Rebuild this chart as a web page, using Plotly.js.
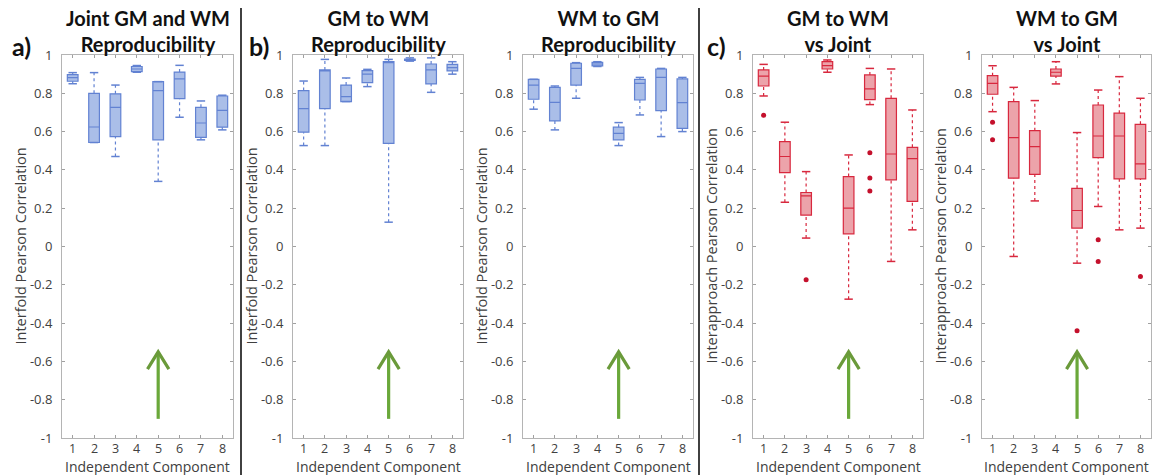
<!DOCTYPE html>
<html>
<head>
<meta charset="utf-8">
<script src="https://cdn.plot.ly/plotly-3.0.1.min.js"></script>
<style>html,body{margin:0;padding:0;background:#fff;}#chart{width:1153px;height:475px;}</style>
</head>
<body>
<div id="chart"></div>
<script>
// ---------- data ----------
const components = [1, 2, 3, 4, 5, 6, 7, 8];
const xTickText = ['1', '2', '3', '4', '5', '6', '7', '8'];
const yTickVals = [-1, -0.8, -0.6, -0.4, -0.2, 0, 0.2, 0.4, 0.6, 0.8, 1];
const yTickText = ['-1', '-0.8', '-0.6', '-0.4', '-0.2', '0', '0.2', '0.4', '0.6', '0.8', '1'];

const panelTitles = ['Joint GM and WM<br>Reproducibility', 'GM to WM<br>Reproducibility', 'WM to GM<br>Reproducibility', 'GM to WM<br>vs Joint', 'WM to GM<br>vs Joint'];
const panelLetters = ['a)', 'b)', 'c)'];
const yTitles = ['Interfold Pearson Correlation', 'Interfold Pearson Correlation', 'Interfold Pearson Correlation', 'Interapproach Pearson Correlation', 'Interapproach Pearson Correlation'];
const xTitle = 'Independent Component';

// Panel 1: Joint GM and WM reproducibility
const jointLo  = [0.850, 0.543, 0.470, 0.910, 0.340, 0.675, 0.557, 0.609];
const jointQ1  = [0.863, 0.543, 0.574, 0.913, 0.557, 0.772, 0.570, 0.623];
const jointMed = [0.882, 0.624, 0.727, 0.927, 0.814, 0.875, 0.645, 0.711];
const jointQ3  = [0.897, 0.800, 0.797, 0.940, 0.861, 0.911, 0.727, 0.786];
const jointHi  = [0.908, 0.908, 0.843, 0.945, 0.861, 0.946, 0.760, 0.790];
const jointOutX = [];
const jointOutY = [];

// Panel 2: GM to WM reproducibility
const gwLo  = [0.527, 0.527, 0.757, 0.835, 0.127, 0.968, 0.805, 0.900];
const gwQ1  = [0.597, 0.720, 0.757, 0.856, 0.539, 0.972, 0.849, 0.917];
const gwMed = [0.720, 0.917, 0.783, 0.900, 0.960, 0.975, 0.922, 0.934];
const gwQ3  = [0.814, 0.922, 0.843, 0.918, 0.966, 0.978, 0.953, 0.951];
const gwHi  = [0.864, 0.977, 0.880, 0.925, 0.977, 0.985, 0.985, 0.965];
const gwOutX = [];
const gwOutY = [];

// Panel 3: WM to GM reproducibility
const wgLo  = [0.717, 0.609, 0.774, 0.940, 0.527, 0.687, 0.574, 0.600];
const wgQ1  = [0.769, 0.656, 0.843, 0.943, 0.557, 0.765, 0.710, 0.617];
const wgMed = [0.843, 0.753, 0.930, 0.953, 0.591, 0.852, 0.883, 0.751];
const wgQ3  = [0.873, 0.831, 0.957, 0.962, 0.623, 0.873, 0.927, 0.875];
const wgHi  = [0.873, 0.838, 0.960, 0.965, 0.647, 0.883, 0.930, 0.883];
const wgOutX = [];
const wgOutY = [];

// Panel 4: GM to WM vs Joint
const gwjLo  = [0.786, 0.231, 0.044, 0.910, -0.275, 0.741, -0.078, 0.087];
const gwjQ1  = [0.838, 0.386, 0.164, 0.927, 0.066, 0.767, 0.348, 0.236];
const gwjMed = [0.890, 0.470, 0.264, 0.944, 0.200, 0.823, 0.483, 0.459];
const gwjQ3  = [0.922, 0.548, 0.282, 0.965, 0.365, 0.896, 0.774, 0.518];
const gwjHi  = [0.951, 0.649, 0.391, 0.974, 0.478, 0.930, 0.927, 0.713];
const gwjOutX = [1, 3, 6, 6, 6];
const gwjOutY = [0.685, -0.174, 0.490, 0.358, 0.290];

// Panel 5: WM to GM vs Joint
const wgjLo  = [0.704, -0.052, 0.238, 0.849, -0.087, 0.209, 0.087, 0.096];
const wgjQ1  = [0.795, 0.357, 0.377, 0.890, 0.096, 0.464, 0.353, 0.353];
const wgjMed = [0.852, 0.569, 0.522, 0.910, 0.188, 0.577, 0.577, 0.431];
const wgjQ3  = [0.892, 0.757, 0.605, 0.927, 0.304, 0.739, 0.696, 0.638];
const wgjHi  = [0.944, 0.831, 0.762, 0.965, 0.595, 0.817, 0.887, 0.774];
const wgjOutX = [1, 1, 5, 6, 6, 8];
const wgjOutY = [0.649, 0.557, -0.440, 0.035, -0.078, -0.157];

// highlighted component (green arrow)
const arrowComponent = 5;
const arrowFrom = -0.90;
const arrowTo = -0.55;

// ---------- build ----------
const W = 1153, H = 475;
const panels = [
  {lo: jointLo, q1: jointQ1, med: jointMed, q3: jointQ3, hi: jointHi, ox: jointOutX, oy: jointOutY, c: 'blue', px: [62, 233]},
  {lo: gwLo, q1: gwQ1, med: gwMed, q3: gwQ3, hi: gwHi, ox: gwOutX, oy: gwOutY, c: 'blue', px: [293, 463]},
  {lo: wgLo, q1: wgQ1, med: wgMed, q3: wgQ3, hi: wgHi, ox: wgOutX, oy: wgOutY, c: 'blue', px: [523, 693]},
  {lo: gwjLo, q1: gwjQ1, med: gwjMed, q3: gwjQ3, hi: gwjHi, ox: gwjOutX, oy: gwjOutY, c: 'red', px: [753, 923]},
  {lo: wgjLo, q1: wgjQ1, med: wgjMed, q3: wgjQ3, hi: wgjHi, ox: wgjOutX, oy: wgjOutY, c: 'red', px: [982, 1151]}
];
const palette = {
  blue: {fill: '#aabee8', line: '#6282d2', out: '#4a6cc8'},
  red:  {fill: '#eca3aa', line: '#d8283e', out: '#c4102c'}
};
const plotTop = 55, plotBot = 438;
const yDom = [1 - plotBot / H, 1 - plotTop / H];
const baseFont = '"Open Sans", sans-serif';
const boldFont = 'Lato, "Open Sans", sans-serif';

const data = [];
const layout = {
  width: W, height: H,
  margin: {l: 0, r: 0, t: 0, b: 0},
  paper_bgcolor: '#ffffff', plot_bgcolor: '#ffffff',
  showlegend: false,
  font: {family: baseFont, color: '#404040', size: 13},
  annotations: [], shapes: []
};

panels.forEach((p, i) => {
  const n = i === 0 ? '' : String(i + 1);
  const xa = 'x' + n, ya = 'y' + n;
  const col = palette[p.c];
  // boxes (whiskers drawn separately as dashed lines)
  data.push({
    type: 'box', xaxis: xa, yaxis: ya,
    x: components, q1: p.q1, median: p.med, q3: p.q3,
    lowerfence: p.q1, upperfence: p.q3,
    width: 0.5, whiskerwidth: 0,
    fillcolor: col.fill, line: {color: col.line, width: 1.2},
    boxpoints: false, hoverinfo: 'skip'
  });
  // whiskers
  const wx = [], wy = [];
  components.forEach((c, k) => {
    wx.push(c, c, null, c, c, null);
    wy.push(p.q3[k], p.hi[k], null, p.lo[k], p.q1[k], null);
  });
  data.push({
    type: 'scatter', mode: 'lines', xaxis: xa, yaxis: ya,
    x: wx, y: wy, line: {color: col.line, width: 1.2, dash: '3px,3px'},
    hoverinfo: 'skip'
  });
  // whisker caps
  data.push({
    type: 'scatter', mode: 'markers', xaxis: xa, yaxis: ya,
    x: components.concat(components), y: p.hi.concat(p.lo),
    marker: {symbol: 'line-ew', size: 6, line: {color: col.line, width: 1.5}},
    hoverinfo: 'skip'
  });
  // outliers
  if (p.ox.length) {
    data.push({
      type: 'scatter', mode: 'markers', xaxis: xa, yaxis: ya,
      x: p.ox, y: p.oy,
      marker: {symbol: 'circle', size: 5, color: col.out},
      hoverinfo: 'skip'
    });
  }
  const axisCommon = {
    showline: true, linecolor: '#b4b4b4', linewidth: 1, mirror: 'ticks',
    ticks: 'inside', ticklen: 3, tickcolor: '#a0a0a0', showgrid: false, zeroline: false,
    tickfont: {family: baseFont, size: 13, color: '#404040'}
  };
  layout['xaxis' + n] = Object.assign({}, axisCommon, {
    anchor: ya, domain: [p.px[0] / W, p.px[1] / W], range: [0.5, 8.5],
    tickvals: components, ticktext: xTickText, showticklabels: false
  });
  layout['yaxis' + n] = Object.assign({}, axisCommon, {
    anchor: xa, domain: yDom, range: [-1, 1],
    tickvals: yTickVals, ticktext: yTickText, ticklabelstandoff: 6
  });
  // x tick labels (placed as annotations on the axis positions)
  components.forEach((c, k) => {
    layout.annotations.push({
      xref: xa, yref: 'paper', x: c, y: 1 - 448.5 / H,
      xanchor: 'center', yanchor: 'middle', showarrow: false, borderpad: 0,
      text: xTickText[k], font: {family: baseFont, size: 12.5, color: '#404040'}
    });
  });
  const cx = (p.px[0] + p.px[1]) / 2;
  // panel title
  layout.annotations.push({
    xref: 'paper', yref: 'paper', x: cx / W, y: 1 - 31 / H,
    xanchor: 'center', yanchor: 'middle', showarrow: false,
    text: '<b>' + panelTitles[i] + '</b>',
    font: {family: boldFont, size: 20, color: '#111111'}
  });
  // x title
  layout.annotations.push({
    xref: 'paper', yref: 'paper', x: cx / W, y: 1 - 466 / H,
    xanchor: 'center', yanchor: 'middle', showarrow: false, borderpad: 0,
    text: xTitle, font: {family: baseFont, size: 14, color: '#404040'}
  });
  // y title
  layout.annotations.push({
    xref: 'paper', yref: 'paper', x: (p.px[0] - 42) / W, y: 1 - ((plotTop + plotBot) / 2) / H,
    xanchor: 'center', yanchor: 'middle', showarrow: false, textangle: -90,
    text: yTitles[i], font: {family: baseFont, size: 14.5, color: '#404040'}
  });
  // green arrow at highlighted component
  const green = '#6aa83a';
  layout.shapes.push({
    type: 'line', xref: xa, yref: ya, x0: arrowComponent, x1: arrowComponent,
    y0: arrowFrom, y1: arrowTo - 0.005, line: {color: green, width: 3.2}
  });
  layout.shapes.push({
    type: 'path', xref: xa, yref: ya,
    path: 'M ' + (arrowComponent - 0.5) + ',' + (arrowTo - 0.09) + ' L ' + arrowComponent + ',' + arrowTo +
          ' L ' + (arrowComponent + 0.5) + ',' + (arrowTo - 0.09),
    line: {color: '#6a9a3a', width: 3.2}
  });
});

// panel letters
const letterX = [10, 247, 705];
panelLetters.forEach((t, k) => {
  layout.annotations.push({
    xref: 'paper', yref: 'paper', x: letterX[k] / W, y: 1 - 46 / H,
    xanchor: 'left', yanchor: 'middle', showarrow: false,
    text: '<b>' + t + '</b>', font: {family: boldFont, size: 25, color: '#111111'}
  });
});

// divider lines between figure groups
[241, 699].forEach(px => {
  layout.shapes.push({
    type: 'line', xref: 'paper', yref: 'paper', x0: px / W, x1: px / W,
    y0: 0, y1: 1 - 8 / H, line: {color: '#111111', width: 1.6}
  });
});

Plotly.newPlot('chart', data, layout, {staticPlot: true, displayModeBar: false});
</script>
</body>
</html>
